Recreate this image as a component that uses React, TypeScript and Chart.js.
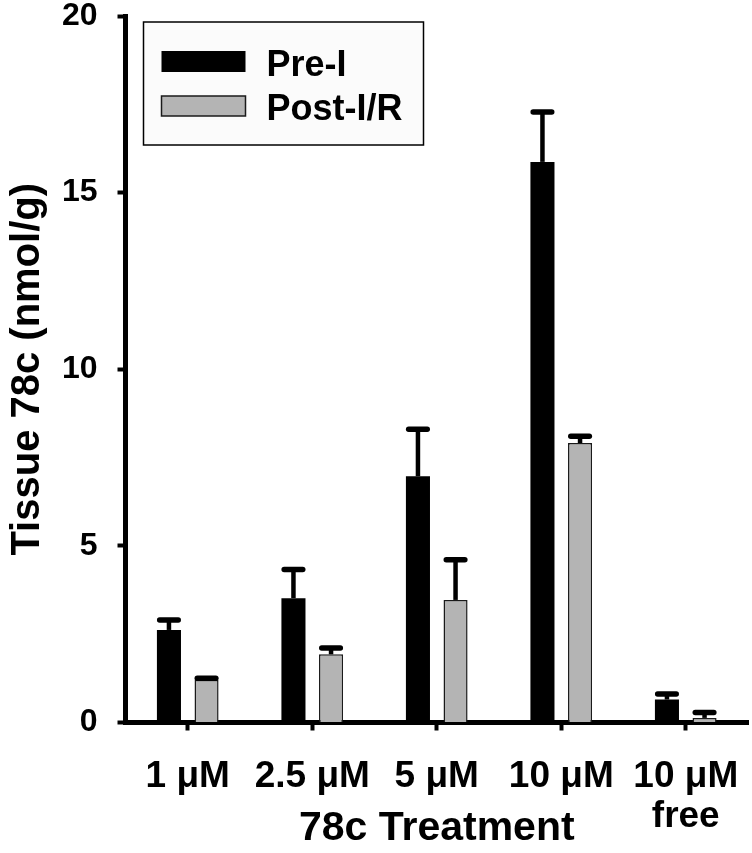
import React, { useEffect, useRef } from "react";
import { Chart, registerables } from "chart.js";

Chart.register(...registerables);

// ---- data ----
const categories: (string | string[])[] = ["1 μM", "2.5 μM", "5 μM", "10 μM", ["10 μM", "free"]];
const seriesLabels = ["Pre-I", "Post-I/R"];
const preI = [2.62, 3.52, 6.97, 15.87, 0.65];
const preIErr = [0.28, 0.81, 1.33, 1.41, 0.16];
const postIR = [1.2, 1.93, 3.47, 7.91, 0.13];
const postIRErr = [0.05, 0.18, 1.14, 0.19, 0.15];
const yMin = 0;
const yMax = 20;
const yStep = 5;
const yTitle = "Tissue 78c (nmol/g)";
const xTitle = "78c Treatment";

const FONT = "'Liberation Sans', Arial, Helvetica, sans-serif";

const errorBarPlugin = {
  id: "errorBars",
  afterDatasetsDraw(chart: any) {
    const ctx = chart.ctx;
    const yScale = chart.scales.y;
    chart.data.datasets.forEach((ds: any, di: number) => {
      const meta = chart.getDatasetMeta(di);
      if (!ds.errorBars) return;
      meta.data.forEach((el: any, i: number) => {
        const v = ds.data[i];
        const e = ds.errorBars[i];
        const yTop = yScale.getPixelForValue(v + e);
        const yBar = el.y;
        const w = el.width;
        ctx.save();
        ctx.strokeStyle = "#000";
        ctx.lineWidth = 4.5;
        ctx.lineCap = "butt";
        ctx.beginPath();
        ctx.moveTo(el.x, yBar);
        ctx.lineTo(el.x, yTop);
        ctx.stroke();
        ctx.lineWidth = 5.5;
        ctx.lineCap = "round";
        ctx.beginPath();
        ctx.moveTo(el.x - w / 2 + 2.75, yTop);
        ctx.lineTo(el.x + w / 2 - 2.75, yTop);
        ctx.stroke();
        ctx.restore();
      });
    });
  },
};

const boxLegendPlugin = {
  id: "boxLegend",
  afterDraw(chart: any) {
    const ctx = chart.ctx;
    const { left, top } = chart.chartArea;
    const bx = left + 18;
    const by = top + 6;
    const bw = 280;
    const bh = 123;
    ctx.save();
    ctx.fillStyle = "#fbfbfb";
    ctx.fillRect(bx, by, bw, bh);
    ctx.lineWidth = 1.5;
    ctx.strokeStyle = "#000";
    ctx.strokeRect(bx, by, bw, bh);
    chart.data.datasets.forEach((ds: any, i: number) => {
      const sy = by + 29 + i * 45;
      const sh = i === 0 ? 21 : 20;
      ctx.fillStyle = ds.backgroundColor;
      ctx.fillRect(bx + 18, sy, 84, sh);
      if (ds.borderWidth) {
        ctx.lineWidth = 1.5;
        ctx.strokeStyle = ds.borderColor;
        ctx.strokeRect(bx + 18, sy, 84, sh);
      }
      ctx.fillStyle = "#000";
      ctx.font = `bold 36px ${FONT}`;
      ctx.textBaseline = "alphabetic";
      ctx.textAlign = "left";
      ctx.fillText(ds.label, bx + 123, by + 53.5 + i * 44);
    });
    ctx.restore();
  },
};

export default function App() {
  const ref = useRef<HTMLCanvasElement | null>(null);

  useEffect(() => {
    document.body.style.margin = "0";
    const canvas = ref.current;
    if (!canvas) return;
    const chart = new Chart(canvas, {
      type: "bar",
      data: {
        labels: categories as any,
        datasets: [
          {
            label: seriesLabels[0],
            data: preI,
            backgroundColor: "#000000",
            borderColor: "#000000",
            borderWidth: 0,
            errorBars: preIErr,
            categoryPercentage: 0.604,
            barPercentage: 0.64,
          } as any,
          {
            label: seriesLabels[1],
            data: postIR,
            backgroundColor: "#b4b4b4",
            borderColor: "#1a1a1a",
            borderWidth: 1.5,
            errorBars: postIRErr,
            categoryPercentage: 0.604,
            barPercentage: 0.64,
          } as any,
        ],
      },
      options: {
        animation: false,
        responsive: true,
        maintainAspectRatio: false,
        layout: { padding: { top: 16, right: 4, left: 0, bottom: 0 } },
        plugins: {
          legend: { display: false },
          tooltip: { enabled: false },
        },
        scales: {
          x: {
            type: "category",
            z: 1,
            offset: true,
            afterFit(scale: any) {
              scale.height = 130.5;
              scale.paddingLeft = 0;
              scale.paddingRight = 0;
            },
            border: { display: true, color: "#000", width: 5 },
            grid: {
              display: true,
              drawOnChartArea: false,
              drawTicks: true,
              tickLength: 8,
              tickWidth: 4,
              tickColor: "#000",
              color: "#000",
              offset: false,
            },
            ticks: {
              color: "#000",
              font: { family: FONT, size: 37, weight: "bold", lineHeight: 1.1 },
              padding: 25.5,
              maxRotation: 0,
              minRotation: 0,
              autoSkip: false,
            },
            title: {
              display: true,
              text: xTitle,
              color: "#000",
              font: { family: FONT, size: 41, weight: "bold", lineHeight: 1.2 },
              padding: 0,
            },
          },
          y: {
            min: yMin,
            max: yMax,
            z: 1,
            afterFit(scale: any) {
              scale.width = 125.5;
              scale.paddingTop = 0;
              scale.paddingBottom = 0;
            },
            border: { display: true, color: "#000", width: 5 },
            grid: {
              display: true,
              drawOnChartArea: false,
              drawTicks: true,
              tickLength: 8,
              tickWidth: 4,
              tickColor: "#000",
              color: "#000",
            },
            ticks: {
              stepSize: yStep,
              color: "#000",
              font: { family: FONT, size: 32, weight: "bold", lineHeight: 1 },
              padding: 20,
            },
            title: {
              display: true,
              text: yTitle,
              color: "#000",
              font: { family: FONT, size: 40, weight: "bold", lineHeight: 1.2 },
              padding: { top: 3.5, bottom: 0 },
            },
          },
        },
      } as any,
      plugins: [errorBarPlugin, boxLegendPlugin],
    });
    return () => chart.destroy();
  }, []);

  return (
    <div style={{ width: 752, height: 853, position: "relative", background: "#fff" }}>
      <canvas ref={ref} />
    </div>
  );
}
